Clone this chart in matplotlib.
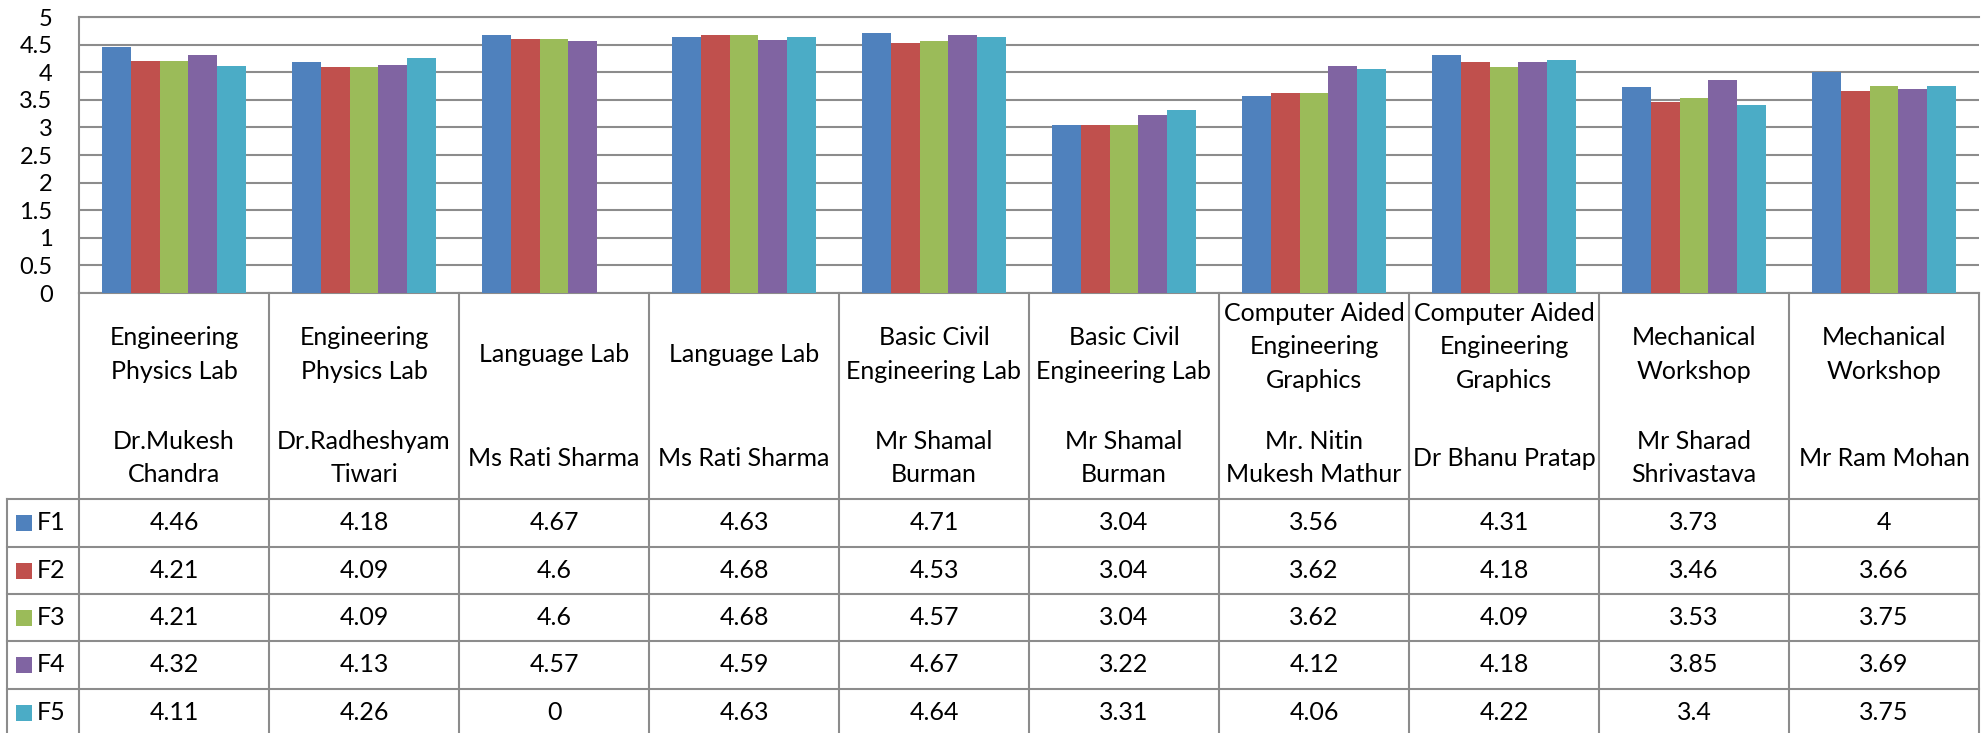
import matplotlib.pyplot as plt
import numpy as np

plt.rcParams['font.family'] = ['Lato', 'DejaVu Sans']

subjects = ['Engineering\nPhysics Lab', 'Engineering\nPhysics Lab', 'Language Lab', 'Language Lab',
            'Basic Civil\nEngineering Lab', 'Basic Civil\nEngineering Lab',
            'Computer Aided\nEngineering\nGraphics', 'Computer Aided\nEngineering\nGraphics',
            'Mechanical\nWorkshop', 'Mechanical\nWorkshop']
faculty = ['Dr.Mukesh\nChandra', 'Dr.Radheshyam\nTiwari', 'Ms Rati Sharma', 'Ms Rati Sharma',
           'Mr Shamal\nBurman', 'Mr Shamal\nBurman', 'Mr. Nitin\nMukesh Mathur', 'Dr Bhanu Pratap',
           'Mr Sharad\nShrivastava', 'Mr Ram Mohan']

series = ['F1', 'F2', 'F3', 'F4', 'F5']
F1 = [4.46, 4.18, 4.67, 4.63, 4.71, 3.04, 3.56, 4.31, 3.73, 4]
F2 = [4.21, 4.09, 4.6, 4.68, 4.53, 3.04, 3.62, 4.18, 3.46, 3.66]
F3 = [4.21, 4.09, 4.6, 4.68, 4.57, 3.04, 3.62, 4.09, 3.53, 3.75]
F4 = [4.32, 4.13, 4.57, 4.59, 4.67, 3.22, 4.12, 4.18, 3.85, 3.69]
F5 = [4.11, 4.26, 0, 4.63, 4.64, 3.31, 4.06, 4.22, 3.4, 3.75]
values = [F1, F2, F3, F4, F5]
colors = ['#4F81BD', '#C0504D', '#9BBB59', '#8064A2', '#4BACC6']

W, H = 1983, 733
fig = plt.figure(figsize=(W / 100, H / 100), dpi=100)
grey = '#8c8c8c'
lw = 1.5

# chart area (pixel layout of the reference)
left, right, top, axis_y = 79, 1979, 17, 293
ax = fig.add_axes([left / W, 1 - axis_y / H, (right - left) / W, (axis_y - top) / H])
n = len(subjects)
x = np.arange(n)
bw = 0.1526
for j, (vals, c) in enumerate(zip(values, colors)):
    ax.bar(x + (j - 2) * bw, vals, width=bw, color=c, linewidth=0, zorder=3)

ax.set_xlim(-0.5, n - 0.5)
ax.set_ylim(0, 5)
ax.set_yticks(np.arange(0, 5.01, 0.5))
ax.set_yticklabels(['0', '0.5', '1', '1.5', '2', '2.5', '3', '3.5', '4', '4.5', '5'])
ax.set_xticks([])
ax.tick_params(axis='y', length=0, pad=19, labelsize=17, labelcolor='black')
ax.yaxis.grid(True, color=grey, linewidth=lw, zorder=0)
for s in ['left', 'bottom', 'top']:
    ax.spines[s].set_color(grey)
    ax.spines[s].set_linewidth(lw)
ax.spines['right'].set_visible(False)

# data table below the chart
leg_w = (left - 7) / (right - left) * n
tx = fig.add_axes([7 / W, 0, (right - 7) / W, (H - axis_y) / H])
tx.set_xlim(-0.5 - leg_w, n - 0.5)
tx.set_ylim(H, axis_y)
tx.axis('off')

row_lines = [499, 547, 594, 641, 689]
row_h = 47.5
for k in range(n + 1):
    tx.plot([k - 0.5, k - 0.5], [axis_y, H], color=grey, lw=lw, clip_on=False)
tx.plot([-0.5 - leg_w, -0.5 - leg_w], [row_lines[0], H], color=grey, lw=lw, clip_on=False)
for y in row_lines:
    tx.plot([-0.5 - leg_w, n - 0.5], [y, y], color=grey, lw=lw, clip_on=False)

fs = 18
line_h = 33.5
for i in range(n):
    sl = subjects[i].split('\n')
    sc = 354.5 if len(sl) < 3 else 347
    for k, t in enumerate(sl):
        tx.text(i, sc + (k - (len(sl) - 1) / 2) * line_h, t, ha='center', va='center', fontsize=fs)
    fl = faculty[i].split('\n')
    for k, t in enumerate(fl):
        tx.text(i, 458 + (k - (len(fl) - 1) / 2) * line_h, t, ha='center', va='center', fontsize=fs)

px = n / (right - left)  # data units per pixel
for j, (name, vals, c) in enumerate(zip(series, values, colors)):
    yc = row_lines[j] + row_h / 2
    tx.add_patch(plt.Rectangle((-0.5 - leg_w + 9 * px, yc - 8), 16 * px, 16, color=c, lw=0))
    tx.text(-0.5 - leg_w + 30 * px, yc, name, ha='left', va='center', fontsize=fs)
    for i, v in enumerate(vals):
        tx.text(i, yc, f'{v:g}', ha='center', va='center', fontsize=fs)

fig.savefig('out.png', dpi=100)
